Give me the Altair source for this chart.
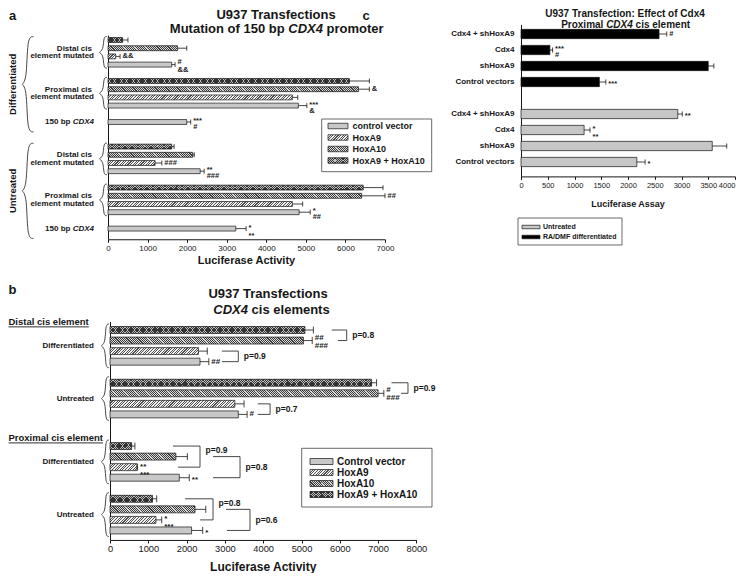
import altair as alt

FONT = "Liberation Sans"
INK = "#161616"
M = 8            # page margin
CW, CH = 728, 565

# ---------------- panel a : U937, mutation of 150 bp CDX4 promoter ----------------
A_CONDITION = ["Differentiated"] * 9 + ["Untreated"] * 9
A_CONSTRUCT = (["Distal cis element mutated"] * 4
               + ["Proximal cis element mutated"] * 4
               + ["150 bp CDX4"]) * 2
A_SERIES = (["HoxA9 + HoxA10", "HoxA10", "HoxA9", "control vector"] * 2
            + ["control vector"]) * 2
A_VALUE = [370, 1760, 195, 1610, 6100, 6330, 4660, 4810, 1990,
           1610, 2140, 1190, 2330, 6450, 6410, 4660, 4830, 3230]
A_SE = [135, 230, 110, 85, 505, 275, 135, 215, 100,
        60, 40, 170, 100, 500, 590, 260, 280, 260]
A_SIG = ["", "", "&&", "#|&&", "", "&", "", "***|&", "***|#",
         "", "", "###", "**|###", "", "##", "", "*|##", "*|**"]
A_LEGEND = ["control vector", "HoxA9", "HoxA10", "HoxA9 + HoxA10"]

# ---------------- panel b : CDX4 cis elements ----------------
B_ELEMENT = ["Distal cis element"] * 8 + ["Proximal cis element"] * 8
B_CONDITION = (["Differentiated"] * 4 + ["Untreated"] * 4) * 2
B_SERIES = ["HoxA9 + HoxA10", "HoxA10", "HoxA9", "Control vector"] * 4
B_VALUE = [5090, 5050, 2310, 2350, 6830, 7000, 3260, 3350,
           565, 1720, 700, 1810, 1110, 2220, 1200, 2130]
B_SE = [220, 230, 230, 230, 130, 150, 240, 230,
        85, 300, 20, 260, 110, 280, 150, 290]
B_SIG = ["", "##|###", "", "##", "", "#|###", "", "#",
         "", "", "**|***", "**", "", "", "*|***", "*"]
B_LEGEND = ["Control vector", "HoxA9", "HoxA10", "HoxA9 + HoxA10"]
B_PAIR_TOP = [0, 2, 4, 6, 8, 9, 12, 13]
B_PAIR_BOT = [1, 3, 5, 7, 10, 11, 14, 15]
B_PAIR_P = ["p=0.8", "p=0.9", "p=0.9", "p=0.7", "p=0.9", "p=0.8", "p=0.8", "p=0.6"]
B_PAIR_XTOP = [5790, 2920, 7350, 3860, 1645, 2690, 1960, 3030]
B_PAIR_XBOT = [5950, 2920, 7600, 3860, 1775, 2690, 2350, 3055]
B_PAIR_XEND = [6180, 3350, 7780, 4180, 2350, 3395, 2690, 3655]
B_PAIR_LABEL = ["mid", "mid", "mid", "mid", "top", "mid", "top", "mid"]

# ---------------- panel c : effect of Cdx4 ----------------
C_CONDITION = ["RA/DMF differentiated"] * 4 + ["Untreated"] * 4
C_CONSTRUCT = ["Cdx4 + shHoxA9", "Cdx4", "shHoxA9", "Control vectors"] * 2
C_VALUE = [2580, 540, 3500, 1465, 2930, 1180, 3575, 2165]
C_SE = [145, 50, 105, 120, 85, 110, 270, 155]
C_SIG = ["#", "***|#", "", "***", "**", "*|**", "", "*"]
C_LEGEND = ["Untreated", "RA/DMF differentiated"]

# ---------------- layout (page pixels) ----------------
GEO = {
    "a": dict(x0=108.0, kx=0.03957, xmax=7000, step=1000, y0=40.0, ky=8.2,
              ylo=-0.6, yhi=24.3, hb=0.30, cap=0.30, tick_fs=8, sig_fs=7.5),
    "b": dict(x0=110.0, kx=0.0383, xmax=8000, step=1000, y0=330.0, ky=10.55,
              ylo=-0.8, yhi=19.9, hb=0.33, cap=0.33, tick_fs=9.3, sig_fs=8),
    "c": dict(x0=521.0, kx=0.0535, xmax=4000, step=500, y0=34.0, ky=16.0,
              ylo=-0.6, yhi=8.9, hb=0.29, cap=0.16, tick_fs=7.5, sig_fs=7.5),
}


def PX(g, v):
    return g["x0"] + v * g["kx"]


def PY(g, s):
    return g["y0"] + s * g["ky"]


def slot_list(outer, inner, outer_gap, inner_gap):
    out, s, prev = [], 0, None
    for o, n in zip(outer, inner):
        if prev is not None:
            if o != prev[0]:
                s += outer_gap
            elif n != prev[1]:
                s += inner_gap
            else:
                s += 1
        out.append(s)
        prev = (o, n)
    return out


A_SLOTS = slot_list(A_CONDITION, A_CONSTRUCT, 3, 2)
B_SLOTS = slot_list(B_ELEMENT, B_CONDITION, 3, 2)
C_SLOTS = slot_list(C_CONDITION, C_CONDITION, 2, 2)

# ---------------- hatch fills (Vega linear gradients) ----------------


def rnd(v):
    return round(v, 5)


def stripes(wpx, hpx, direction, period, fg, bg, frac):
    wpx = max(wpx, 1.0)
    L = wpx + hpx
    n = max(1, int(round(L / period)))
    a = hpx / wpx
    k = L / (wpx * (1 + a * a))
    if direction == "/":
        x1, y1, x2, y2 = 0, 0, k, k * a
    else:
        x1, y1, x2, y2 = 0, 1, k, 1 - k * a
    stops = []
    for i in range(n):
        s, m, e = i / n, (i + frac) / n, (i + 1) / n
        stops += [{"offset": rnd(s), "color": fg}, {"offset": rnd(m), "color": fg},
                  {"offset": rnd(m), "color": bg}, {"offset": rnd(e), "color": bg}]
    return {"gradient": "linear", "x1": rnd(x1), "y1": rnd(y1),
            "x2": rnd(x2), "y2": rnd(y2), "stops": stops}


def fills(series, wpx, hpx):
    key = series.lower()
    if key.startswith("control"):
        return "#c8c8c8", None
    if key == "hoxa9":
        return stripes(wpx, hpx, "/", 2.6, "#4e4e4e", "#f4f4f4", 0.42), None
    if key == "hoxa10":
        return stripes(wpx, hpx, "\\", 2.2, "#3a3a3a", "#dcdcdc", 0.5), None
    if key == "untreated":
        return "#c6c6c6", None
    if key.startswith("ra/dmf"):
        return "#000000", None
    return (stripes(wpx, hpx, "/", 2.4, "#333333", "#c2c2c2", 0.42),
            stripes(wpx, hpx, "\\", 2.4, "#333333", "rgba(0,0,0,0)", 0.42))


# ---------------- panel builder ----------------


def build_panel(key, slots, values, ses, series, sigs, pairs=None, flush_last=False):
    g = GEO[key]
    xs = alt.Scale(domain=[0, g["xmax"]], range=[PX(g, 0) - M, PX(g, g["xmax"]) - M],
                   nice=False, zero=False)
    ys = alt.Scale(domain=[g["ylo"], g["yhi"]],
                   range=[PY(g, g["ylo"]) - M, PY(g, g["yhi"]) - M], nice=False, zero=False)
    ax_kw = dict(orient="bottom", offset=PY(g, g["yhi"]) - M - CH,
                 values=list(range(0, g["xmax"] + 1, g["step"])), format="d",
                 tickSize=3, labelFontSize=g["tick_fs"], labelFont=FONT, labelColor=INK,
                 domainColor=INK, tickColor=INK, grid=False, title=None,
                 labelFlush=False, labelOverlap=False, labelPadding=2)
    if flush_last:
        ax_kw["labelAlign"] = {"condition": {"test": "datum.value >= %d" % g["xmax"],
                                             "value": "right"}, "value": "center"}
    xaxis = alt.Axis(**ax_kw)
    yaxis = alt.Axis(orient="left", offset=-(PX(g, 0) - M), labels=False, ticks=False,
                     grid=False, title=None, domainColor=INK)

    def X(f):
        return alt.X(f, type="quantitative", scale=xs, axis=xaxis)

    def Y(f):
        return alt.Y(f, type="quantitative", scale=ys, axis=yaxis)

    hpx = 2 * g["hb"] * g["ky"]
    bars, over, sig_rows = [], [], []
    for s, v, se, ser, sig in zip(slots, values, ses, series, sigs):
        f1, f2 = fills(ser, v * g["kx"], hpx)
        rec = dict(s=s, zero=0, val=v, err=v + se, y0=s - g["hb"], y1=s + g["hb"],
                   c0=s - g["cap"], c1=s + g["cap"], f1=f1)
        bars.append(rec)
        if f2 is not None:
            over.append(dict(rec, f2=f2))
        if sig:
            parts = sig.split("|")
            offs = [0.0] if len(parts) == 1 else [-3.0, 5.0]
            for p, o in zip(parts, offs):
                if "*" in p:
                    o += 0.3 * g["sig_fs"]
                sig_rows.append(dict(x=v + se, ty=s + o / g["ky"], text=p))

    layers = [
        alt.Chart(alt.Data(values=bars)).mark_rect(strokeWidth=0).encode(
            x=X("zero"), x2=alt.X2("val"), y=Y("y0"), y2=alt.Y2("y1"),
            fill=alt.Fill("f1:N", scale=None, legend=None)),
    ]
    if over:
        layers.append(alt.Chart(alt.Data(values=over)).mark_rect(strokeWidth=0).encode(
            x=X("zero"), x2=alt.X2("val"), y=Y("y0"), y2=alt.Y2("y1"),
            fill=alt.Fill("f2:N", scale=None, legend=None)))
    layers += [
        alt.Chart(alt.Data(values=bars)).mark_rect(fillOpacity=0, stroke=INK, strokeWidth=0.7).encode(
            x=X("zero"), x2=alt.X2("val"), y=Y("y0"), y2=alt.Y2("y1")),
        alt.Chart(alt.Data(values=bars)).mark_rule(color=INK, strokeWidth=0.8).encode(
            x=X("val"), x2=alt.X2("err"), y=Y("s")),
        alt.Chart(alt.Data(values=bars)).mark_rule(color=INK, strokeWidth=0.8).encode(
            x=X("err"), y=Y("c0"), y2=alt.Y2("c1")),
        alt.Chart(alt.Data(values=sig_rows)).mark_text(
            align="left", baseline="middle", dx=2.5, font=FONT, fontWeight="bold",
            fontSize=g["sig_fs"], color=INK).encode(x=X("x"), y=Y("ty"), text=alt.Text("text:N")),
    ]
    if pairs:
        hr, vr, lr = [], [], []
        for t, b, xt, xb, xe, p, lab in pairs:
            st, sb = slots[t], slots[b]
            hr += [dict(x=xt, x2=xe, y=st), dict(x=xb, x2=xe, y=sb)]
            vr.append(dict(x=xe, y=st, y2=sb))
            ly = st + 0.4 if lab == "top" else (st + sb) / 2
            lr.append(dict(x=xe, y=ly, text=p))
        layers += [
            alt.Chart(alt.Data(values=hr)).mark_rule(color="#333333", strokeWidth=0.9).encode(
                x=X("x"), x2=alt.X2("x2"), y=Y("y")),
            alt.Chart(alt.Data(values=vr)).mark_rule(color="#333333", strokeWidth=0.9).encode(
                x=X("x"), y=Y("y"), y2=alt.Y2("y2")),
            alt.Chart(alt.Data(values=lr)).mark_text(
                align="left", baseline="middle", dx=5.5, font=FONT, fontWeight="bold",
                fontSize=8.5, color=INK).encode(x=X("x"), y=Y("y"), text=alt.Text("text:N")),
        ]
    return alt.layer(*layers)


panel_a = build_panel("a", A_SLOTS, A_VALUE, A_SE, A_SERIES, A_SIG)
b_pairs = list(zip(B_PAIR_TOP, B_PAIR_BOT, B_PAIR_XTOP, B_PAIR_XBOT, B_PAIR_XEND,
                   B_PAIR_P, B_PAIR_LABEL))
panel_b = build_panel("b", B_SLOTS, B_VALUE, B_SE, B_SERIES, B_SIG, b_pairs)
panel_c = build_panel("c", C_SLOTS, C_VALUE, C_SE, C_CONDITION, C_SIG, flush_last=True)

# ---------------- decorations (titles, labels, braces, legends) ----------------
BW = {" ": 278, "+": 584, ":": 333, "/": 278, "=": 584, ".": 278, "#": 556, "&": 722,
      "*": 389, "A": 722, "B": 722, "C": 722, "D": 722, "E": 667, "F": 611, "G": 778,
      "H": 722, "I": 278, "M": 833, "P": 667, "R": 722, "T": 611, "U": 722, "X": 667,
      "a": 556, "b": 611, "c": 556, "d": 611, "e": 556, "f": 333, "g": 611, "h": 611,
      "i": 278, "k": 556, "l": 278, "m": 889, "n": 611, "o": 611, "p": 611, "r": 389,
      "s": 556, "t": 333, "u": 611, "v": 556, "x": 556, "y": 556}
for d in "0123456789":
    BW[d] = 556


def tw(s, fs):
    return sum(BW.get(ch, 600) for ch in s) * fs / 1000.0


TEXTS = []


def T(txt, x, y, fs, align="center", weight="bold", style="normal", angle=0):
    TEXTS.append(dict(px=x - M, py=y - M, text=txt.strip(), fs=fs, align=align,
                      weight=weight, style=style, angle=angle))


def mixed(parts, x, y, fs, anchor="center"):
    total = sum(tw(t, fs) for t, _ in parts)
    start = x - total / 2 if anchor == "center" else (x - total if anchor == "right" else x)
    for t, it in parts:
        lead = tw(t[: len(t) - len(t.lstrip())], fs)
        T(t, start + lead, y, fs, align="left", style="italic" if it else "normal")
        start += tw(t, fs)


ga, gb, gc = GEO["a"], GEO["b"], GEO["c"]

# panel letters and titles (kept inside the drawable area, just below the page margin)
T("a", 12.5, 15.5, 13)
T("b", 12.5, 290, 13)
T("c", 366, 15.5, 13)
T("U937 Transfections", 276, 15.3, 13)
mixed([("Mutation of 150 bp ", False), ("CDX4", True), (" promoter", False)], 276.7, 28.6, 13)
T("U937 Transfections", 268, 294, 13)
mixed([("CDX4", True), (" cis elements", False)], 271.5, 310, 13)
T("U937 Transfection:  Effect of Cdx4", 625, 14, 10)
mixed([("Proximal ", False), ("CDX4", True), (" cis element", False)], 625.6, 24.5, 10)

# axis titles
T("Luciferase Activity", (PX(ga, 0) + PX(ga, ga["xmax"])) / 2, 261, 11)
T("Luciferase Activity", (PX(gb, 0) + PX(gb, gb["xmax"])) / 2, 566.5, 12)
T("Luciferase Assay", (PX(gc, 0) + PX(gc, gc["xmax"])) / 2, 204, 9)

BRACES = []


def brace(bid, x_hook, x_line, x_nub, y_top, y_bot):
    ym = (y_top + y_bot) / 2
    pts = [(x_hook, y_top), (x_line, y_top), (x_line, ym - 1.5), (x_nub, ym),
           (x_line, ym + 1.5), (x_line, y_bot), (x_hook, y_bot)]
    for i, (x, y) in enumerate(pts):
        BRACES.append(dict(bid=bid, ord=i, px=x - M, py=y - M))


def groups(outer, inner, slots):
    out = []
    for o, n, s in zip(outer, inner, slots):
        if out and out[-1][0] == o and out[-1][1] == n:
            out[-1][2].append(s)
        else:
            out.append([o, n, [s]])
    return out


# panel a category labels and braces
for cond, cons, ss in groups(A_CONDITION, A_CONSTRUCT, A_SLOTS):
    cy = PY(ga, sum(ss) / len(ss))
    if cons == "150 bp CDX4":
        mixed([("150 bp ", False), ("CDX4", True)], 94, cy, 8, anchor="right")
    else:
        first, second = cons.split(" element")
        T(first, 92, cy - 3.8, 8, align="right")
        T("element" + second, 94, cy + 3.8, 8, align="right")
        brace("a-%s-%s" % (cond, cons), 107, 103.5, 97.5, PY(ga, ss[0]) - 3.5, PY(ga, ss[-1]) + 3.5)
for cond in ["Differentiated", "Untreated"]:
    ss = [s for c, s in zip(A_CONDITION, A_SLOTS) if c == cond]
    top, bot = PY(ga, ss[0] - 0.4), PY(ga, ss[-1] + 1.2)
    brace("a-" + cond, 33.5, 27, 20, top, bot)
    T(cond, 13, (top + bot) / 2, 9.5, angle=270)

# panel b labels, headers and braces
for elem, cond, ss in groups(B_ELEMENT, B_CONDITION, B_SLOTS):
    cy = PY(gb, sum(ss) / len(ss))
    T(cond, 94, cy, 8, align="right")
    brace("b-%s-%s" % (elem, cond), 109, 105.5, 99.5, PY(gb, ss[0]) - 6, PY(gb, ss[-1]) + 6)
RULES = []
for elem in ["Distal cis element", "Proximal cis element"]:
    s0 = [s for e, s in zip(B_ELEMENT, B_SLOTS) if e == elem][0]
    hy = PY(gb, s0 - 0.8)
    T(elem, 8.5, hy, 9.5, align="left")
    RULES.append(dict(px=8.5 - M, px2=8.5 + tw(elem, 9.5) - M, py=hy + 5.3 - M))

# panel c labels
for cons, s in zip(C_CONSTRUCT, C_SLOTS):
    T(cons, 514.5, PY(gc, s), 8, align="right")

# legends
BOXES = [dict(px=321.7 - M, px2=431.7 - M, py=119 - M, py2=171.7 - M),
         dict(px=301.7 - M, px2=432 - M, py=448.3 - M, py2=507 - M),
         dict(px=518 - M, px2=622 - M, py=218 - M, py2=245 - M)]
SW1, SW2 = [], []


def legend(names, ys, sx0, sx1, sh, tx, fs):
    for name, y in zip(names, ys):
        f1, f2 = fills(name, sx1 - sx0, sh)
        rec = dict(px=sx0 - M, px2=sx1 - M, py=y - sh / 2 - M, py2=y + sh / 2 - M, f1=f1)
        SW1.append(rec)
        if f2 is not None:
            SW2.append(dict(rec, f2=f2))
        T(name, tx, y, fs, align="left")


legend(A_LEGEND, [126, 137.5, 149, 160.5], 328, 348, 5.5, 352.5, 9)
legend(B_LEGEND, [461.5, 472.5, 483.5, 494.5], 310, 333, 6, 337, 10)
legend(C_LEGEND, [227, 237], 522, 540, 3.5, 543, 7)

PXs = alt.X("px:Q", scale=None, axis=None)
PYs = alt.Y("py:Q", scale=None, axis=None)

decor = [
    alt.Chart(alt.Data(values=BOXES)).mark_rect(fill="white", stroke="#444444", strokeWidth=0.8).encode(
        x=PXs, x2=alt.X2("px2"), y=PYs, y2=alt.Y2("py2")),
    alt.Chart(alt.Data(values=SW1)).mark_rect(strokeWidth=0).encode(
        x=PXs, x2=alt.X2("px2"), y=PYs, y2=alt.Y2("py2"),
        fill=alt.Fill("f1:N", scale=None, legend=None)),
    alt.Chart(alt.Data(values=SW2)).mark_rect(strokeWidth=0).encode(
        x=PXs, x2=alt.X2("px2"), y=PYs, y2=alt.Y2("py2"),
        fill=alt.Fill("f2:N", scale=None, legend=None)),
    alt.Chart(alt.Data(values=SW1)).mark_rect(fillOpacity=0, stroke=INK, strokeWidth=0.7).encode(
        x=PXs, x2=alt.X2("px2"), y=PYs, y2=alt.Y2("py2")),
    alt.Chart(alt.Data(values=BRACES)).mark_line(color="#333333", strokeWidth=0.9,
                                                 interpolate="basis").encode(
        x=PXs, y=PYs, detail=alt.Detail("bid:N"), order=alt.Order("ord:Q")),
    alt.Chart(alt.Data(values=RULES)).mark_rule(color=INK, strokeWidth=0.9).encode(
        x=PXs, x2=alt.X2("px2"), y=PYs),
]

keys = []
for t in TEXTS:
    k = (t["align"], t["weight"], t["style"], t["angle"])
    if k not in keys:
        keys.append(k)
for align, weight, style, angle in keys:
    rows = [t for t in TEXTS if (t["align"], t["weight"], t["style"], t["angle"]) == (align, weight, style, angle)]
    decor.append(
        alt.Chart(alt.Data(values=rows)).mark_text(
            align=align, baseline="middle", font=FONT, fontWeight=weight, fontStyle=style,
            angle=angle, color=INK).encode(
            x=PXs, y=PYs, text=alt.Text("text:N"), size=alt.Size("fs:Q", scale=None, legend=None)))

decor_layer = alt.layer(*decor)

chart = alt.layer(panel_a, panel_b, panel_c, decor_layer).resolve_scale(
    x="independent", y="independent"
).properties(
    width=CW, height=CH, padding=0,
    autosize=alt.AutoSizeParams(type="none"), background="white"
).configure_view(stroke="transparent")

chart.save("out.html", embed_options={"renderer": "svg", "actions": False})
